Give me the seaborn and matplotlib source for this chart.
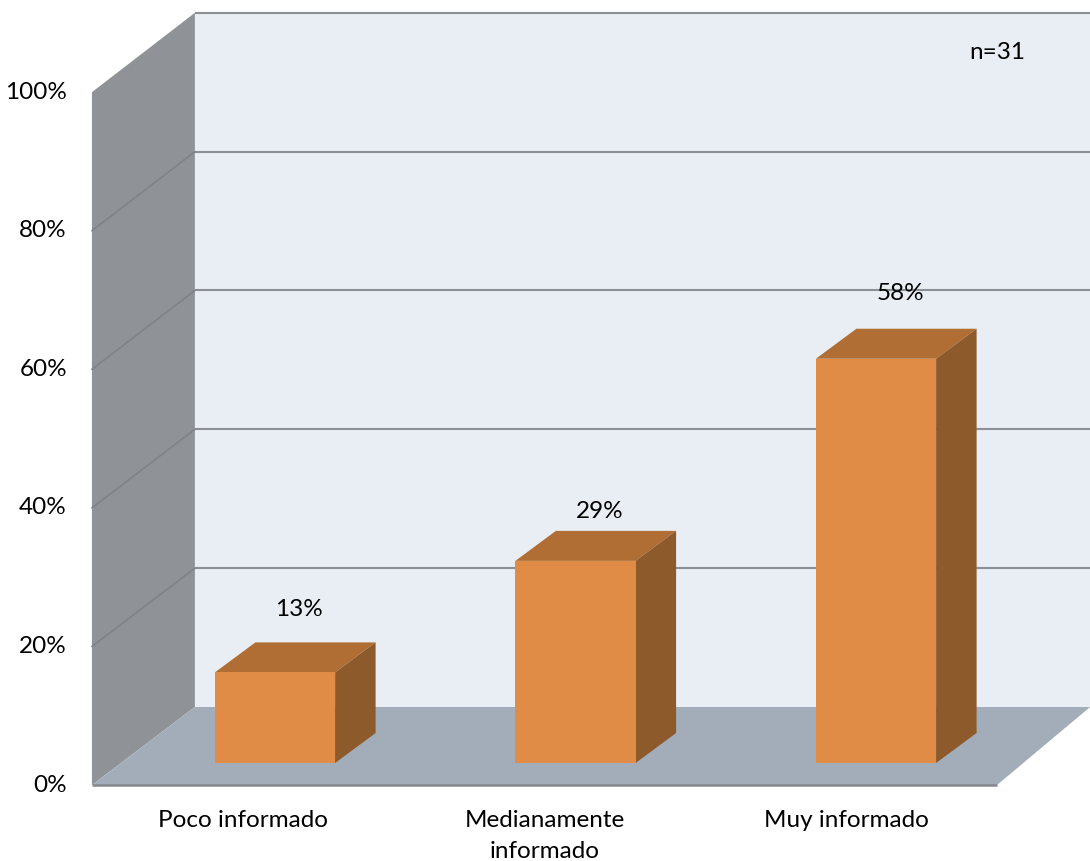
import matplotlib
matplotlib.use("Agg")
import matplotlib.pyplot as plt
from matplotlib.patches import Polygon
import seaborn as sns
import pandas as pd

# ---- data -------------------------------------------------------------
categories = ["Poco informado", "Medianamente\ninformado", "Muy informado"]
percentages = [13, 29, 58]
y_ticks = [0, 20, 40, 60, 80, 100]
y_tick_labels = ["0%", "20%", "40%", "60%", "80%", "100%"]
sample_note = "n=31"

# ---- style ------------------------------------------------------------
FRONT_COLOR = "#e08b46"
TOP_COLOR = "#b06e35"
SIDE_COLOR = "#8d5a2c"
BACK_WALL = "#e9eef4"
SIDE_WALL = "#8f9297"
FLOOR = "#a3adb9"
GRID = "#8c9095"
EDGE = "#85898e"
FONT_SIZE = 17.5

W, H, DPI = 1090, 861, 100

# depth offsets (pixels) of the box planes relative to the plane of the bar fronts
PLANES = {
    "front": dict(dx=-31.0, dy=-22.0, sx=1.004, sy=0.994),
    "back": dict(dx=67.0, dy=56.0, sx=0.993, sy=0.996),
}
BAR_DEPTH = (40.5, 30.0)          # depth of each bar, pixels (right, up)
LABEL_SHIFT = 24                  # value labels sit over the middle of the top face
LABEL_LIFT = [63, 49, 65]         # pixels above the front top edge

sns.set_theme(style="white")
plt.rcParams["font.family"] = ["Lato", "DejaVu Sans"]

fig = plt.figure(figsize=(W / DPI, H / DPI), dpi=DPI)
fig.patch.set_facecolor("white")
ax = fig.add_axes([124.75 / W, (H - 763) / H, 901.5 / W, 697 / H])
ax.patch.set_visible(False)

df = pd.DataFrame({"categoria": categories, "porcentaje": percentages})
sns.barplot(data=df, x="categoria", y="porcentaje", color=FRONT_COLOR,
            saturation=1, width=0.4, linewidth=0, errorbar=None,
            ax=ax, zorder=4)
ax.set_xlim(-0.5, 2.5)
ax.set_ylim(0, 100)
ax.set_axis_off()

px = 72.0 / DPI  # points per pixel
cx = ax.transData.transform((1, 0))[0]


def project(x, v, plane):
    """Data point (x, v) on the front or back plane of the box, in data coords."""
    p = PLANES[plane]
    bx, by = ax.transData.transform((x, v * p["sy"]))
    return ax.transData.inverted().transform(
        (cx + (bx - cx) * p["sx"] + p["dx"], by + p["dy"]))


def shifted(x, v, dx, dy):
    bx, by = ax.transData.transform((x, v))
    return ax.transData.inverted().transform((bx + dx, by + dy))


def poly(points, color, z):
    ax.add_patch(Polygon(points, closed=True, facecolor=color, edgecolor="none",
                         zorder=z, clip_on=False))


x_lo, x_hi = -0.5, 2.5

# back wall, side wall and floor
poly([project(x_lo, 0, "back"), project(x_hi, 0, "back"),
      project(x_hi, 100, "back"), project(x_lo, 100, "back")], BACK_WALL, 0)
poly([project(x_lo, 0, "front"), project(x_lo, 100, "front"),
      project(x_lo, 100, "back"), project(x_lo, 0, "back")], SIDE_WALL, 1)
poly([project(x_lo, 0, "front"), project(x_hi, 0, "front"),
      project(x_hi, 0, "back"), project(x_lo, 0, "back")], FLOOR, 1.5)

# gridlines on the back wall and on the side wall
for v in y_ticks[1:]:
    (a, b), (c, d) = project(x_lo, v, "back"), project(x_hi, v, "back")
    ax.plot([a, c], [b, d], color=GRID, lw=1.5, zorder=0.5, clip_on=False,
            solid_capstyle="butt")
for v in y_ticks[1:-1]:
    (a, b), (c, d) = project(x_lo, v, "front"), project(x_lo, v, "back")
    ax.plot([a, c], [b, d], color="#7f8388", lw=1.2, zorder=1.2, clip_on=False)

# front edge of the floor
(a, b), (c, d) = project(x_lo, 0, "front"), project(x_hi, 0, "front")
ax.plot([a, c], [b, d], color=EDGE, lw=1.8, zorder=1.6, clip_on=False,
        solid_capstyle="butt")

# top and side faces of the bars, plus value labels
ddx, ddy = BAR_DEPTH
for bar, value, lift in zip(ax.patches[:len(percentages)], percentages, LABEL_LIFT):
    x0, w, h = bar.get_x(), bar.get_width(), bar.get_height()
    x1 = x0 + w
    poly([(x0, h), (x1, h), shifted(x1, h, ddx, ddy), shifted(x0, h, ddx, ddy)],
         TOP_COLOR, 3)
    poly([(x1, 0), (x1, h), shifted(x1, h, ddx, ddy), shifted(x1, 0, ddx, ddy)],
         SIDE_COLOR, 3)
    ax.annotate(f"{value}%", xy=(x0 + w / 2, h),
                xytext=(LABEL_SHIFT * px, lift * px), textcoords="offset points",
                ha="center", va="center", fontsize=FONT_SIZE, color="black",
                zorder=6, annotation_clip=False)

# value axis labels on the front edge of the side wall
for v, lab in zip(y_ticks, y_tick_labels):
    ax.annotate(lab, xy=project(x_lo, v, "front"), xytext=(-25 * px, 0),
                textcoords="offset points", ha="right", va="center",
                fontsize=FONT_SIZE, color="black", annotation_clip=False)

# category labels under the front edge of the floor
for i, cat in enumerate(categories):
    ax.annotate(cat, xy=project(i, 0, "front"), xytext=(0, -25 * px),
                textcoords="offset points", ha="center", va="top",
                fontsize=FONT_SIZE, color="black", linespacing=1.6,
                annotation_clip=False)

# sample size note
ax.annotate(sample_note, xy=project(x_hi, 100, "back"), xytext=(-93 * px, -40 * px),
            textcoords="offset points", ha="center", va="center",
            fontsize=FONT_SIZE, color="black", annotation_clip=False)

fig.savefig("out.png", dpi=DPI, facecolor="white")
